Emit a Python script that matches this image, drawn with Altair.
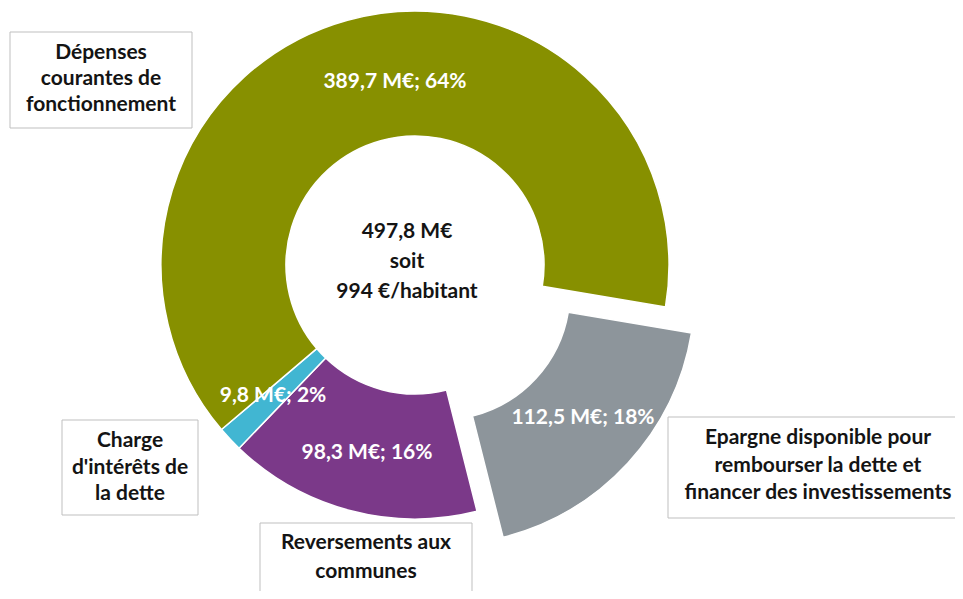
import math
import altair as alt
import pandas as pd

# ---- data ----
slice_keys = ["Epargne", "Reversements", "Charge", "Depenses"]
slice_values = [112.5, 98.3, 9.8, 389.7]          # M€
slice_percents = [18, 16, 2, 64]
slice_colors = ["#8D959B", "#7B3989", "#41B6D2", "#879000"]

box_labels = [
    "Dépenses\ncourantes de\nfonctionnement",
    "Charge\nd'intérêts de\nla dette",
    "Reversements aux\ncommunes",
    "Epargne disponible pour\nrembourser la dette et\nfinancer des investissements",
]
center_lines = "497,8 M€\nsoit\n994 €/habitant"

# ---- layout (page pixel coordinates, converted to chart coords) ----
M = 8
CX, CY = 415 - M, 265 - M
R_OUT, R_IN = 254, 129
START_DEG = 99.5
EXPLODE = (26, 26)

label_pos = [(583, 418), (367, 453), (273, 396), (395, 82)]
box_rects = [(10, 32, 192, 128), (62, 420, 198, 515), (260, 523, 472, 620), (668, 417, 975, 518)]
box_text_first_line = [(101, 53), (130, 441), (366, 543), (818, 438)]
box_line_heights = [26, 26.5, 29, 27.5]
center_pos = (407, 232)

def fmt(v):
    return f"{v:.1f}".replace(".", ",")

df = pd.DataFrame({
    "cat": slice_keys,
    "value": slice_values,
    "order": list(range(len(slice_keys))),
})

start = math.radians(START_DEG)
theta = alt.Theta("value:Q", stack=True,
                  scale=alt.Scale(range=[start, start + 2 * math.pi]))
color = alt.Color("cat:N", scale=alt.Scale(domain=slice_keys, range=slice_colors), legend=None)

base = alt.Chart(df).encode(theta=theta, color=color, order=alt.Order("order:Q"))

ring = base.mark_arc(outerRadius=R_OUT, innerRadius=R_IN, stroke="white", strokeWidth=1.5).encode(
    x=alt.value(CX), y=alt.value(CY),
    opacity=alt.condition("datum.cat == 'Epargne'", alt.value(0), alt.value(1)),
)
exploded = base.mark_arc(outerRadius=R_OUT, innerRadius=R_IN, stroke="white", strokeWidth=1.5).encode(
    x=alt.value(CX + EXPLODE[0]), y=alt.value(CY + EXPLODE[1]),
    opacity=alt.condition("datum.cat == 'Epargne'", alt.value(1), alt.value(0)),
)

FONT = "Lato"
FS = 21

lab_df = pd.DataFrame({
    "text": [f"{fmt(v)} M€; {p}%" for v, p in zip(slice_values, slice_percents)],
    "px": [p[0] - M for p in label_pos],
    "py": [p[1] - M for p in label_pos],
})
slice_labels = alt.Chart(lab_df).mark_text(
    font=FONT, fontWeight="bold", fontSize=FS, color="white", align="center", baseline="middle"
).encode(x=alt.X("px:Q", scale=None), y=alt.Y("py:Q", scale=None), text="text:N")

box_df = pd.DataFrame({
    "x0": [b[0] - M for b in box_rects], "y0": [b[1] - M for b in box_rects],
    "x1": [b[2] - M for b in box_rects], "y1": [b[3] - M for b in box_rects],
})
boxes = alt.Chart(box_df).mark_rect(fill="white", stroke="#BFBFBF", strokeWidth=1).encode(
    x=alt.X("x0:Q", scale=None), x2="x1:Q", y=alt.Y("y0:Q", scale=None), y2="y1:Q"
)

box_texts = []
for txt, (tx, ty), lh in zip(box_labels, box_text_first_line, box_line_heights):
    tdf = pd.DataFrame({"text": [txt], "px": [tx - M], "py": [ty - M]})
    box_texts.append(alt.Chart(tdf).mark_text(
        font=FONT, fontWeight="bold", fontSize=FS, color="#141414", align="center",
        baseline="middle", lineBreak="\n", lineHeight=lh
    ).encode(x=alt.X("px:Q", scale=None), y=alt.Y("py:Q", scale=None), text="text:N"))

center_df = pd.DataFrame({"text": [center_lines], "px": [center_pos[0] - M], "py": [center_pos[1] - M]})
center_text = alt.Chart(center_df).mark_text(
    font=FONT, fontWeight="bold", fontSize=FS, color="#141414", align="center",
    baseline="middle", lineBreak="\n", lineHeight=30
).encode(x=alt.X("px:Q", scale=None), y=alt.Y("py:Q", scale=None), text="text:N")

chart = alt.layer(ring, exploded, slice_labels, boxes, *box_texts, center_text).properties(
    width=947, height=583, autosize=alt.AutoSizeParams(type="none"), padding=0
).configure_view(stroke=None).resolve_scale(theta="shared", color="shared")

chart.save("out.html", embed_options={"renderer": "svg", "actions": False})
